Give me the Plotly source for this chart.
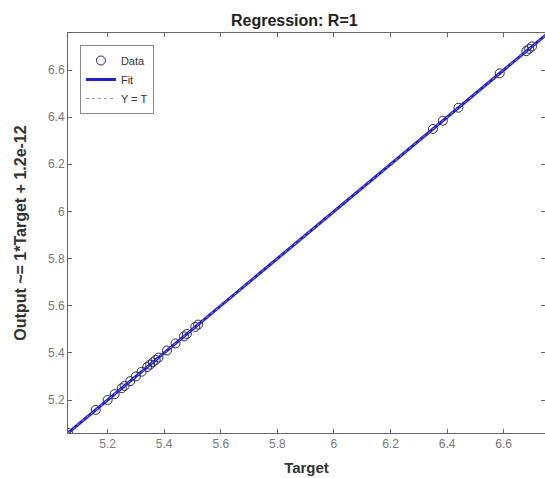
import plotly.graph_objects as go

# Data
target = [5.06, 5.158, 5.20, 5.225, 5.25, 5.26, 5.28, 5.30, 5.32, 5.34,
          5.35, 5.36, 5.37, 5.38, 5.41, 5.44, 5.47, 5.48, 5.51, 5.52,
          6.35, 6.385, 6.44, 6.586, 6.68, 6.69, 6.70]
output = [5.06, 5.158, 5.20, 5.225, 5.25, 5.26, 5.28, 5.30, 5.32, 5.34,
          5.35, 5.36, 5.37, 5.38, 5.41, 5.44, 5.47, 5.48, 5.51, 5.52,
          6.35, 6.385, 6.44, 6.586, 6.68, 6.69, 6.70]
line_x = [5.06, 6.76]
x_ticks = [5.2, 5.4, 5.6, 5.8, 6, 6.2, 6.4, 6.6]
y_ticks = [5.2, 5.4, 5.6, 5.8, 6, 6.2, 6.4, 6.6]
x_range = [5.06, 6.746]
y_range = [5.06, 6.757]

fig = go.Figure()
fig.add_trace(go.Scatter(x=target, y=output, mode="markers", name="Data",
                         marker=dict(symbol="circle-open", size=9,
                                     color="#2a2a55", line=dict(width=1))))
fig.add_trace(go.Scatter(x=line_x, y=line_x, mode="lines", name="Fit",
                         line=dict(color="#2020c8", width=3)))
fig.add_trace(go.Scatter(x=line_x, y=line_x, mode="lines", name="Y = T",
                         line=dict(color="#999999", width=1, dash="dot")))

axis_common = dict(showgrid=False, zeroline=False, showline=True,
                   linecolor="#666666", linewidth=1, mirror="allticks",
                   ticks="inside", ticklen=4, tickcolor="#666666",
                   automargin=False,
                   tickfont=dict(family="Liberation Sans", size=12, color="#777777"))

fig.update_layout(
    width=545, height=478,
    margin=dict(l=68, r=0, t=33, b=45),
    paper_bgcolor="white", plot_bgcolor="white",
    title=dict(text="<b>Regression: R=1</b>", x=0.54, xanchor="center",
               y=0.958, yanchor="middle",
               font=dict(family="Liberation Sans", size=16, color="#222222")),
    xaxis=dict(range=x_range, tickvals=x_ticks, ticktext=[str(v) for v in x_ticks],
               title=dict(text="<b>Target</b>", standoff=12,
                          font=dict(family="Liberation Sans", size=15, color="#333333")),
               **axis_common),
    yaxis=dict(range=y_range, tickvals=y_ticks, ticktext=[str(v) for v in y_ticks],
               title=dict(text="<b>Output ~= 1*Target + 1.2e-12</b>", standoff=17,
                          font=dict(family="Liberation Sans", size=16, color="#333333")),
               **axis_common),
    showlegend=True,
    legend=dict(x=0.025, y=0.97, xanchor="left", yanchor="top",
                bordercolor="#888888", borderwidth=1, bgcolor="white",
                font=dict(family="Liberation Sans", size=11, color="#333333"),
                tracegroupgap=0, itemwidth=30),
)

fig.write_html("out.html",
               config={"displayModeBar": False},
               post_script="document.body.style.margin='0';document.body.style.overflow='hidden';")
